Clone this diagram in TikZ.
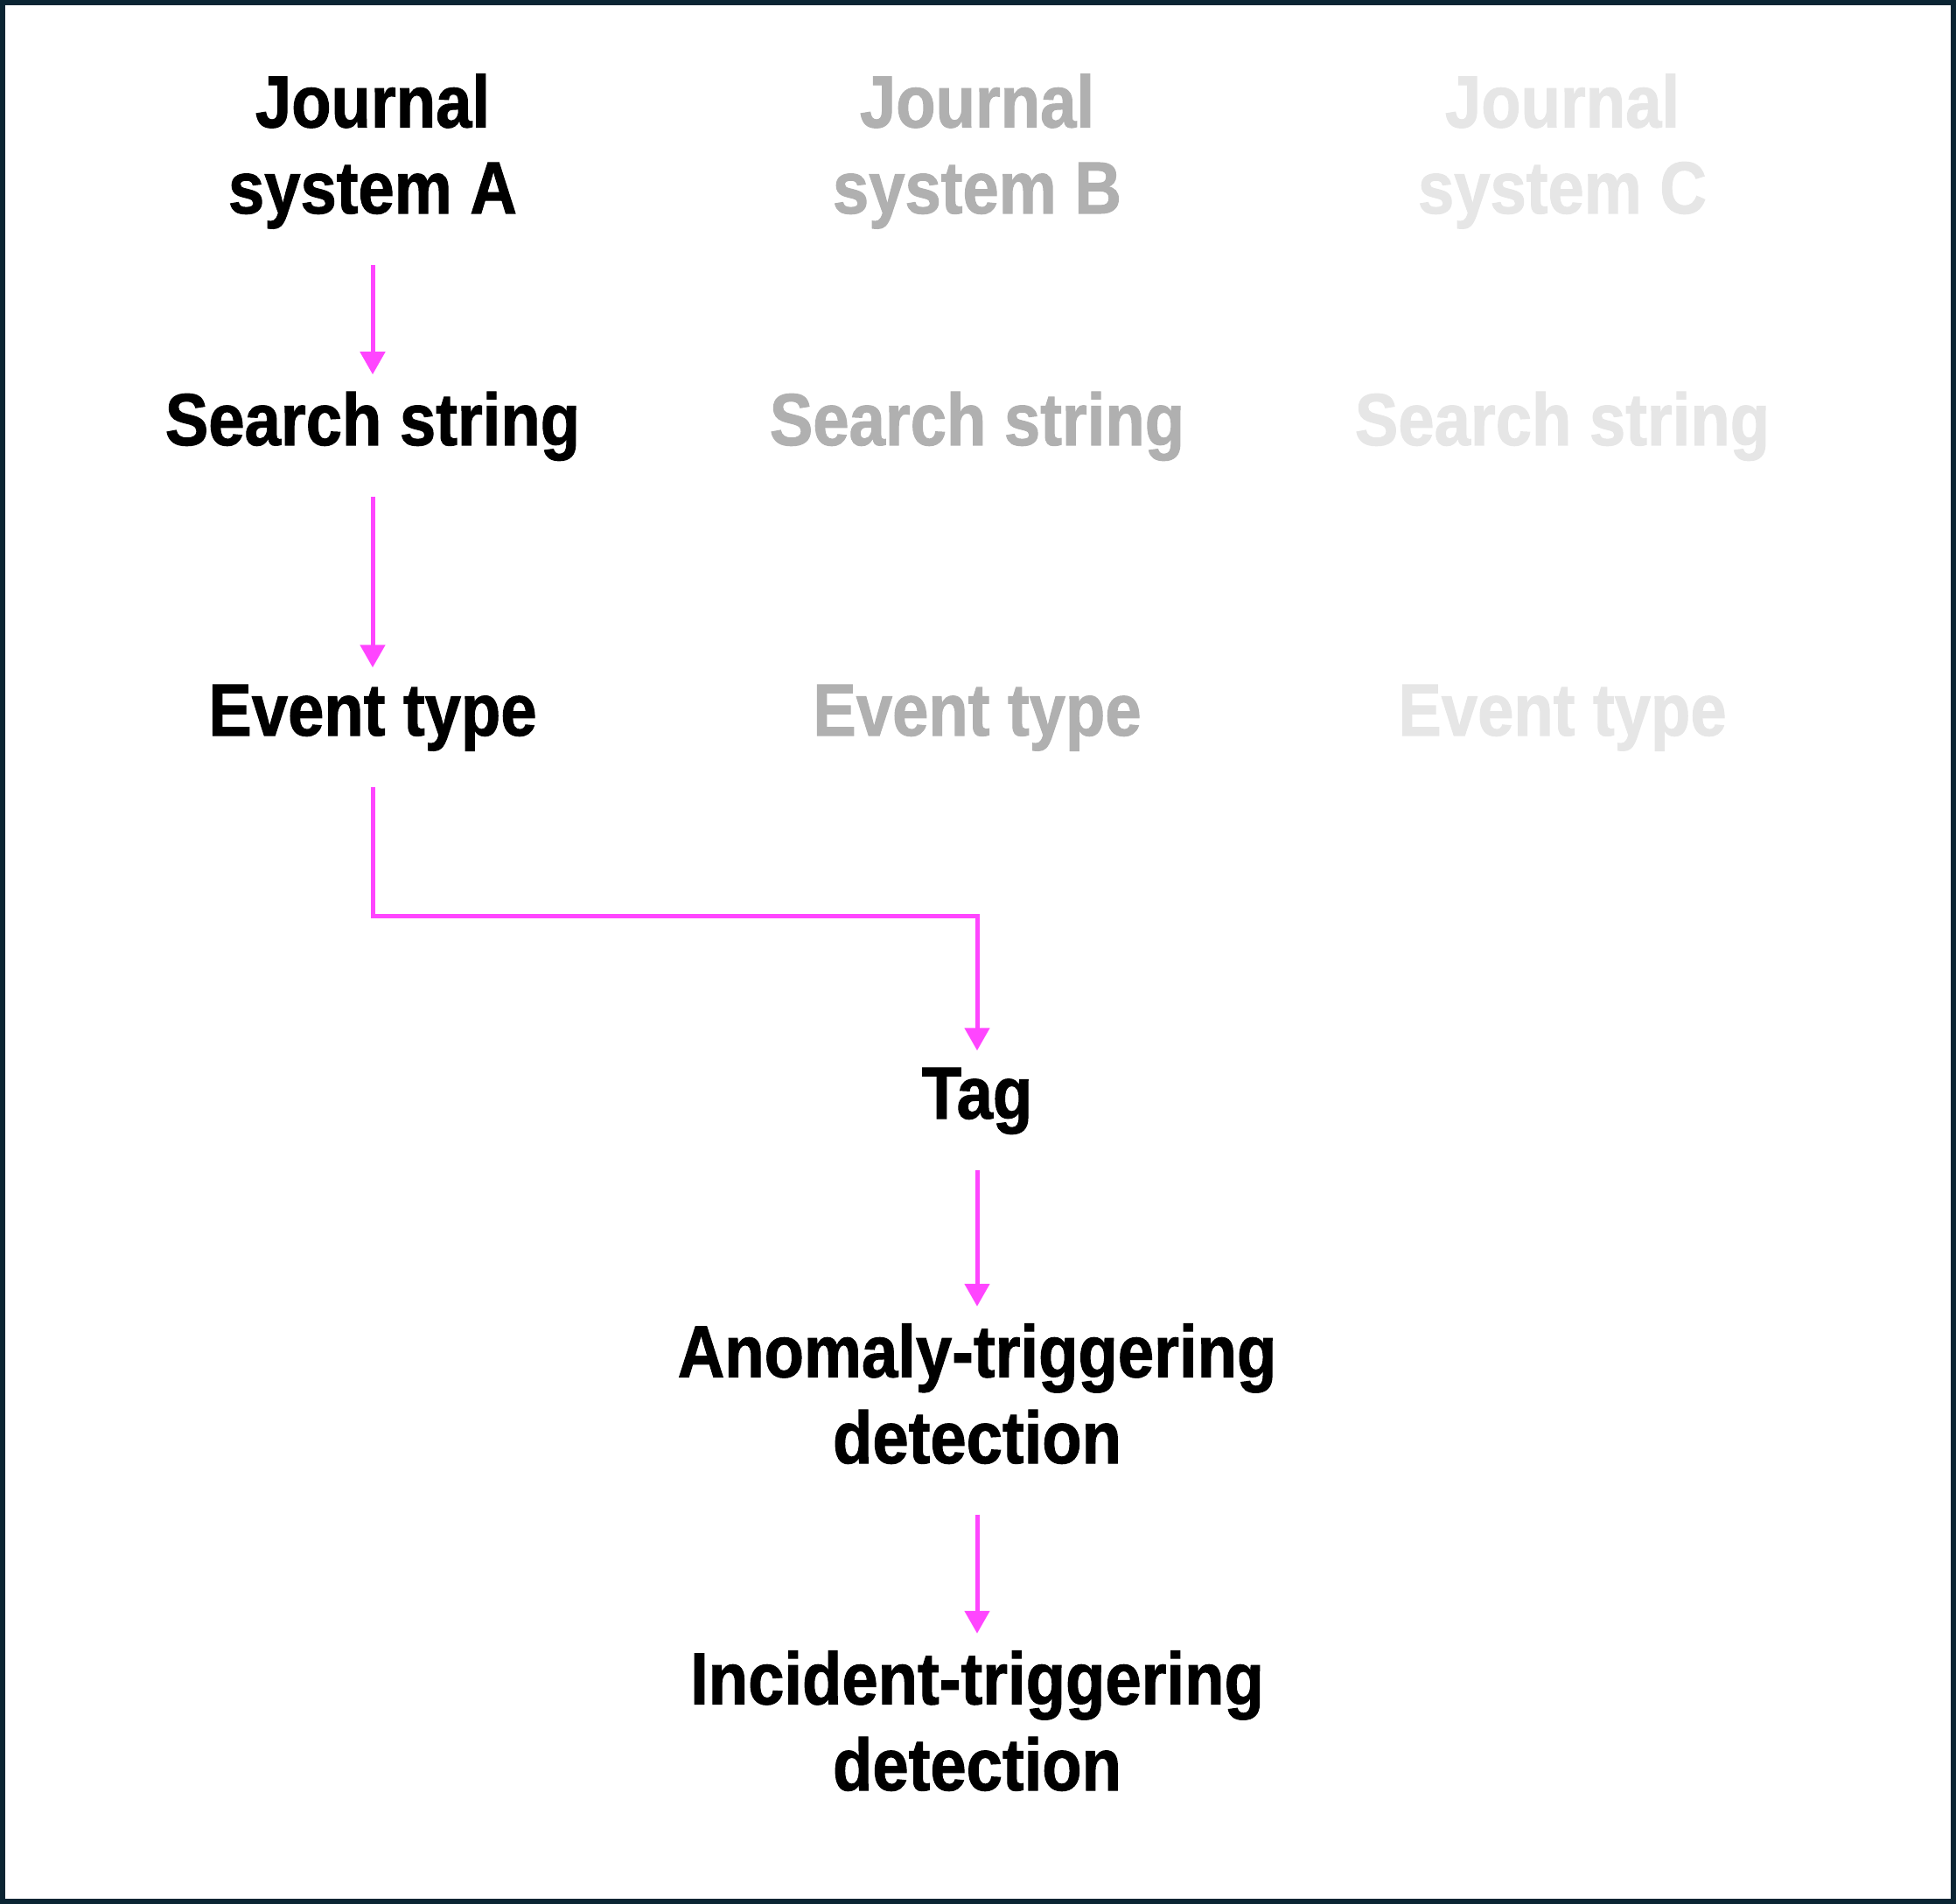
\documentclass[tikz,border=0pt]{standalone}
\usepackage{fontspec}
\setmainfont{Liberation Sans}[FakeStretch=0.88,BoldFeatures={FakeBold=1.2}]
\usetikzlibrary{arrows.meta}
\definecolor{pinkline}{RGB}{255,69,255}
\definecolor{frameblue}{RGB}{11,37,51}
\definecolor{fadeB}{RGB}{176,176,176}
\definecolor{fadeC}{RGB}{230,230,230}
\tikzset{
  >={Triangle[width=2.8mm,length=2.6mm]},
}
\tikzstyle{stage}=[inner sep=0pt,anchor=base,align=center,text depth=2.1mm,
  font=\fontsize{24}{28}\selectfont\bfseries]
\tikzstyle{flow}=[->,line width=0.5mm,pinkline,shorten <=3.7mm,shorten >=1.9mm]

\begin{document}
\begin{tikzpicture}
    \useasboundingbox (0,0) rectangle (22.36,-21.77);
    \draw[frameblue,line width=0.6mm] (0.03,-0.03) rectangle (22.33,-21.74);

    % journal systems
    \node[stage] (jA) at (4.26,-2.44) {Journal\\system A};
    \node[stage,fadeB] (jB) at (11.17,-2.44) {Journal\\system B};
    \node[stage,fadeC] (jC) at (17.86,-2.44) {Journal\\system C};

    \node[stage] (sA) at (4.26,-5.09) {Search string};
    \node[stage,fadeB] (sB) at (11.17,-5.09) {Search string};
    \node[stage,fadeC] (sC) at (17.86,-5.09) {Search string};

    \node[stage] (eA) at (4.26,-8.41) {Event type};
    \node[stage,fadeB] (eB) at (11.17,-8.41) {Event type};
    \node[stage,fadeC] (eC) at (17.86,-8.41) {Event type};

    % common chain
    \node[stage] (tag) at (11.17,-12.79) {Tag};
    \node[stage] (anom) at (11.17,-16.73) {Anomaly-triggering\\detection};
    \node[stage] (inc) at (11.17,-20.47) {Incident-triggering\\detection};
    \coordinate (turn) at (11.17,-10.47);

    \draw[flow] (jA) -- (sA);
    \draw[flow] (sA) -- (eA);
    \draw[flow] (eA) |- (turn) -- (tag);
    \draw[flow] (tag) -- (anom);
    \draw[flow] (anom) -- (inc);
\end{tikzpicture}
\end{document}
